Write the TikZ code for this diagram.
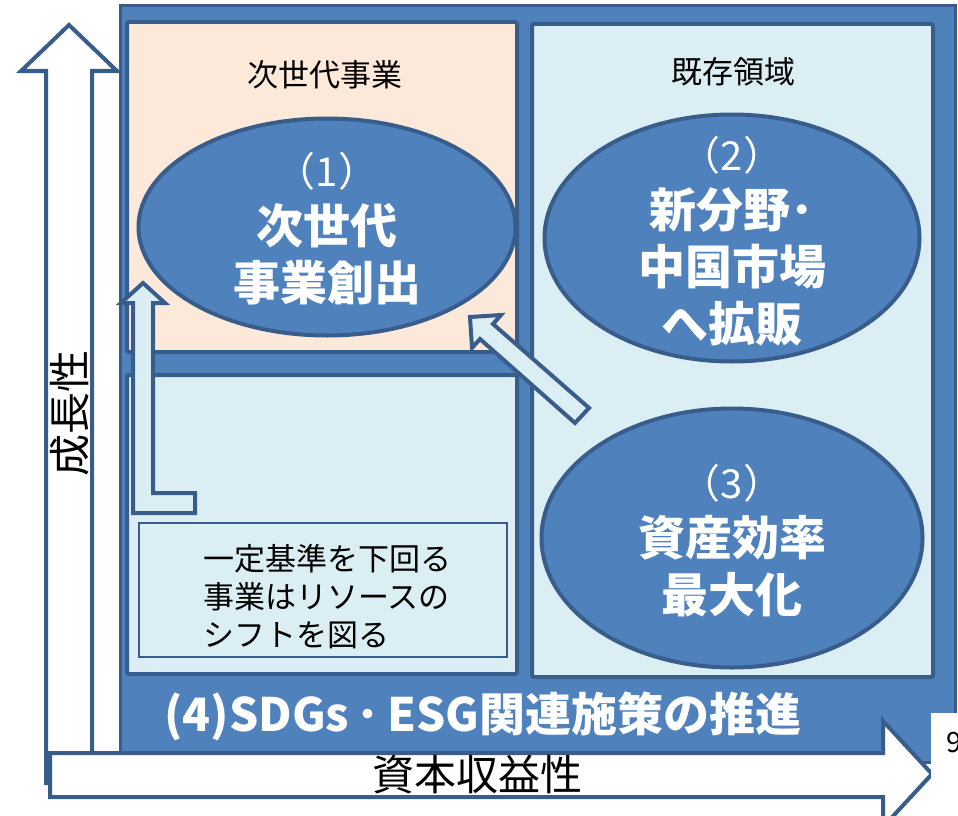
\documentclass[tikz,border=0pt]{standalone}
\usepackage{fontspec}
\setmainfont{Noto Sans CJK JP}
\usetikzlibrary{shapes.geometric}
\definecolor{bfill}{HTML}{4F81BD}
\definecolor{bdark}{HTML}{385D8A}
\definecolor{peach}{HTML}{FDE9D9}
\definecolor{lblue}{HTML}{DBEEF4}
\begin{document}
\begin{tikzpicture}[x=1pt,y=-1pt,
  panel/.style={draw=bdark, line width=4pt, rounded corners=2pt},
  oval/.style={ellipse, draw=bdark, line width=4pt, fill=bfill, inner sep=0pt},
  ovaltext/.style={text=white, align=center, inner sep=0pt, font=\fontsize{47}{57}\selectfont\bfseries},
  lbl/.style={text=black, inner sep=0pt, font=\fontsize{31}{38}\selectfont},
  axislbl/.style={text=black, inner sep=0pt, font=\fontsize{42}{48}\selectfont},
  blockarrow/.style={draw=bdark, line width=4pt, line join=miter}]
\useasboundingbox (0,0) rectangle (958,816);
\clip (0,0) rectangle (958,816);
% outer frame
\path[fill=bfill, draw=bdark, line width=3pt] (120,6) rectangle (955,762);
% panels
\path[panel, fill=peach] (127,22) rectangle (517,352);
\path[panel, fill=lblue] (127,375) rectangle (517,674);
\path[panel, fill=lblue] (532,24) rectangle (933,677);
% panel labels
\node[lbl] (lnext) at (325,75) {次世代事業};
\node[lbl] (lexist) at (733,72) {既存領域};
% ellipses
\node[oval, minimum width=377pt, minimum height=217pt] (e1) at (327,227) {};
\node[oval, minimum width=375pt, minimum height=247pt] (e2) at (732,238) {};
\node[oval, minimum width=381pt, minimum height=259pt] (e3) at (732,538) {};
\node[ovaltext] (t1) at (327,229) {{\mdseries\fontsize{40}{57}\selectfont （1）}\\次世代\\事業創出};
\node[ovaltext] (t2) at (732,241) {{\mdseries\fontsize{40}{57}\selectfont （2）}\\新分野･\\中国市場\\へ拡販};
\node[ovaltext] (t3) at (732,541) {{\mdseries\fontsize{40}{57}\selectfont （3）}\\資産効率\\最大化};
% shift box
\node[draw=bdark, line width=1.5pt, fill=lblue, minimum width=368pt, minimum height=134pt, inner sep=0pt] (sbox) at (323,590) {};
\node[lbl, align=left] (stext) at (327,597) {一定基準を下回る\\事業はリソースの\\シフトを図る};
% L-shaped arrow
\path[blockarrow, fill=lblue] (143,283) -- (165,303) -- (153,303) -- (153,493) -- (195,493) -- (195,513) -- (133,513) -- (133,303) -- (121,303) -- cycle;
% diagonal arrow
\path[blockarrow, fill=lblue] (470,317) -- (501,315) -- (493,324) -- (589,408) -- (575,423) -- (480,339) -- (472,348) -- cycle;
% bottom text
\node[text=white, inner sep=0pt, font=\fontsize{46}{52}\selectfont\bfseries] (t4) at (483,716) {(4)SDGs\,･\,ESG関連施策の推進};
% vertical axis arrow
\path[blockarrow, fill=white] (69,25) -- (117,71) -- (92,71) -- (92,783) -- (46,783) -- (46,71) -- (21,71) -- cycle;
\node[axislbl, rotate=90] (ylab) at (70,413) {成長性};
% horizontal axis arrow
\path[blockarrow, fill=white] (50,753) -- (883,753) -- (883,721) -- (932,774) -- (883,827) -- (883,797) -- (50,797) -- cycle;
\node[axislbl] (xlab) at (477,775) {資本収益性};
% page number patch
\path[fill=white] (931,713) rectangle (960,820);
\node[anchor=west, inner sep=0pt, font=\fontsize{28}{32}\selectfont] (pnum) at (946,743) {9};
\end{tikzpicture}
\end{document}
